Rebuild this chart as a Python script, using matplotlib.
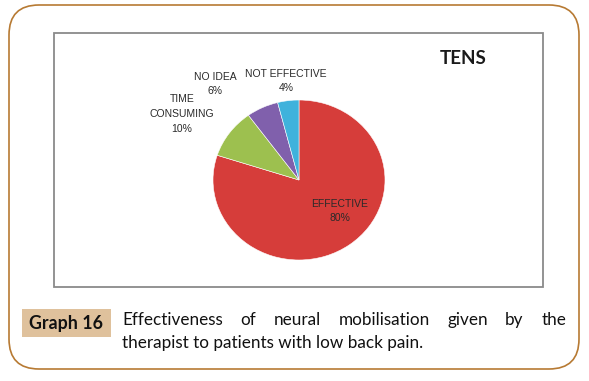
import matplotlib
matplotlib.use("Agg")
import matplotlib.pyplot as plt
from matplotlib.patches import FancyBboxPatch, Rectangle

categories = ["EFFECTIVE", "TIME\nCONSUMING", "NO IDEA", "NOT EFFECTIVE"]
values = [80, 10, 6, 4]
colors = ["#d63d3a", "#9dc04f", "#8060ac", "#3fb2dc"]
chart_title = "TENS"
graph_tag = "Graph 16"
caption_line1 = "Effectiveness of neural mobilisation given by the"
caption_line2 = "therapist to patients with low back pain."

W, H = 589, 381
fig = plt.figure(figsize=(W / 100, H / 100), dpi=100)

def fx(px):
    return px / W

def fy(py):
    return 1 - py / H

# background layer
bg = fig.add_axes([0, 0, 1, 1], zorder=0)
bg.set_xlim(0, W)
bg.set_ylim(H, 0)
bg.axis("off")
bg.add_patch(FancyBboxPatch((9, 5), 570, 364, boxstyle="round,pad=0,rounding_size=30",
                            fill=False, edgecolor="#b77a33", linewidth=1.2))
bg.add_patch(Rectangle((54, 33), 489, 254, fill=False, edgecolor="#8a8a8a", linewidth=1.3))
bg.add_patch(Rectangle((22, 309), 89, 28, facecolor="#dfc19c", edgecolor="none"))

# pie (slightly elliptical)
cx, cy, rx, ry = 299, 180, 86, 80
pax = fig.add_axes([fx(cx - rx), fy(cy + ry), 2 * rx / W, 2 * ry / H], zorder=1)
wedges, _ = pax.pie(values, colors=colors, startangle=90, counterclock=False,
                    wedgeprops=dict(edgecolor="#ffffff", linewidth=0.4))
pax.set_aspect("auto")
pax.set_xlim(-1, 1)
pax.set_ylim(-1, 1)
pax.axis("off")

# top text layer
top = fig.add_axes([0, 0, 1, 1], zorder=2)
top.set_xlim(0, W)
top.set_ylim(H, 0)
top.axis("off")
top.patch.set_alpha(0)

lab_font = dict(fontsize=7.5, family="Liberation Sans", color="#2a2a2a", ha="center", va="center",
                linespacing=1.6)
label_pos = [(340, 211), (182, 114), (215, 84), (286, 81)]
for cat, v, (x, y) in zip(categories, values, label_pos):
    top.text(x, y, f"{cat}\n{v}%", **lab_font)

top.text(463, 58, chart_title, fontsize=13.5, fontweight="bold", family="Lato",
         ha="center", va="center", color="#1a1a1a")
top.text(66, 323, graph_tag, fontsize=12.8, fontweight="bold", family="Lato",
         ha="center", va="center", color="#111111")

# caption, first line justified
cap_font = dict(fontsize=12.3, family="Lato", color="#111111", va="center")
x0, x1 = 122, 566
words = caption_line1.split()
renderer = fig.canvas.get_renderer()
texts = [top.text(0, 320, w, **cap_font) for w in words]
widths = [t.get_window_extent(renderer=renderer).width for t in texts]
gap = (x1 - x0 - sum(widths)) / (len(words) - 1)
x = x0
for t, w in zip(texts, widths):
    t.set_x(x)
    x += w + gap
top.text(x0, 343, caption_line2, **cap_font)

fig.savefig("out.png", dpi=100)
